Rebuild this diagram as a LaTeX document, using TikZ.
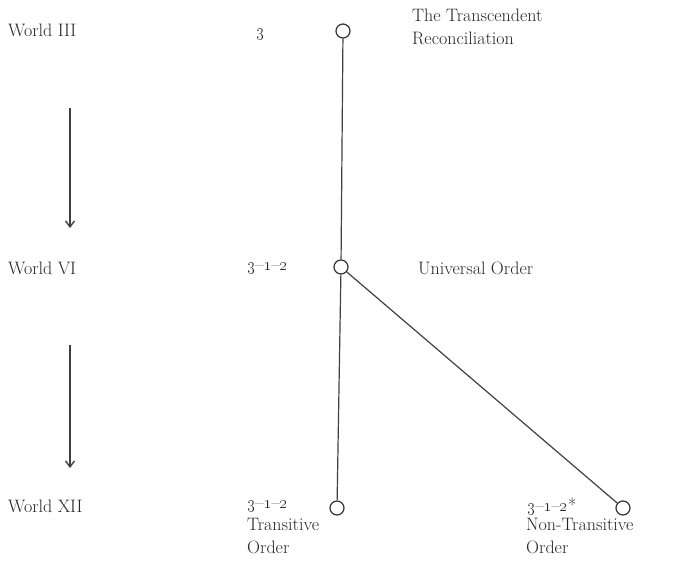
\documentclass[tikz,border=0pt]{standalone}
\usetikzlibrary{arrows.meta}
\begin{document}
\begin{tikzpicture}[x=1pt,y=-1pt,
  lab/.style={font=\fontsize{18}{23}\selectfont, inner sep=0pt, text=black!85},
  dot/.style={circle, draw=black!80, line width=1.2pt, minimum size=14pt, inner sep=0pt},
  edge/.style={draw=black!75, line width=1.2pt},
  flow/.style={draw=black!75, line width=1.4pt, -{Straight Barb[length=6pt,width=9pt]}}]
\useasboundingbox (0,0) rectangle (678,571);
% left world labels
\node[lab, anchor=west] (w3) at (8,30) {World III};
\node[lab, anchor=west] (w6) at (8,268) {World VI};
\node[lab, anchor=west] (w12) at (8,506) {World XII};
\coordinate (a1s) at (70,108);
\coordinate (a1e) at (70,228);
\coordinate (a2s) at (70,345);
\coordinate (a2e) at (70,468);
\draw[flow] (a1s) -- (a1e);
\draw[flow] (a2s) -- (a2e);
% circles
\node[dot] (t) at (343,31) {};
\node[dot] (m) at (341,267) {};
\node[dot] (bl) at (337,508) {};
\node[dot] (br) at (623,508) {};
\draw[edge] (t) -- (m);
\draw[edge] (m) -- (bl);
\draw[edge] (m) -- (br);
% number labels
\node[lab, anchor=west] (n3) at (256,34) {\oldstylenums{3}};
\node[lab, anchor=west] (n312) at (247,268) {\oldstylenums{3}--\oldstylenums{1}--\oldstylenums{2}};
\node[lab, anchor=west] (nbl) at (247,506) {\oldstylenums{3}--\oldstylenums{1}--\oldstylenums{2}};
\node[lab, anchor=west] (nbr) at (527,506) {\oldstylenums{3}--\oldstylenums{1}--\oldstylenums{2}*};
% text labels
\node[lab, anchor=north west, align=left] (tr) at (412,9) {The Transcendent\\Reconciliation};
\node[lab, anchor=west] (uo) at (418,268) {Universal Order};
\node[lab, anchor=north west, align=left] (to) at (247,518) {Transitive\\Order};
\node[lab, anchor=north west, align=left] (nto) at (526,518) {Non-Transitive\\Order};
\end{tikzpicture}
\end{document}
